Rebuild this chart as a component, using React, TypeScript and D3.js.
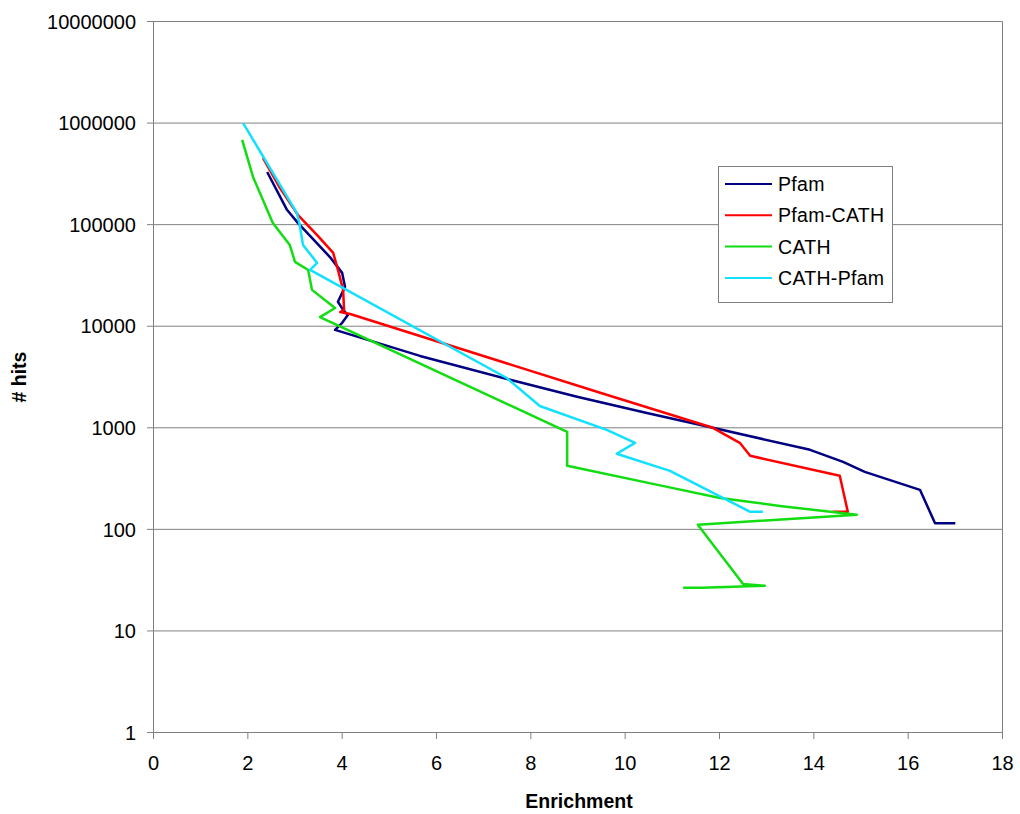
import React from "react";
import * as d3 from "d3";

const xTicks = [0, 2, 4, 6, 8, 10, 12, 14, 16, 18];
const yTicks = [1, 10, 100, 1000, 10000, 100000, 1000000, 10000000];

const pfamX = [2.41, 2.83, 3.06, 3.74, 4.0, 4.06, 3.91, 4.02, 4.12, 4.0, 3.85, 5.65, 7.56, 8.98, 10.46, 11.86, 13.92, 14.62, 15.08, 16.25, 16.57, 17.0];
const pfamY = [330000, 140000, 104000, 48000, 33500, 24400, 17400, 14500, 12900, 10800, 9200, 5100, 2970, 2020, 1400, 1000, 607, 462, 368, 245, 115, 115];

const pfamCathX = [2.32, 2.68, 3.06, 3.47, 3.81, 3.91, 4.02, 4.04, 3.96, 4.17, 9.47, 11.86, 12.43, 12.65, 14.55, 14.72, 14.4];
const pfamCathY = [453000, 230000, 125000, 79000, 52700, 35800, 22800, 14500, 13800, 13200, 2210, 1000, 711, 530, 337, 149, 149];

const cathX = [1.88, 2.11, 2.53, 2.89, 3.0, 3.28, 3.36, 3.85, 3.53, 8.77, 8.77, 10.89, 12.01, 13.28, 14.91, 11.54, 12.5, 12.96, 11.63, 11.23];
const cathY = [682000, 295000, 104000, 63000, 43000, 35800, 22800, 15100, 12300, 912, 422, 262, 204, 170, 139, 111, 29, 27.8, 26.6, 26.6];

const cathPfamX = [1.9, 3.04, 3.1, 3.17, 3.47, 3.32, 7.49, 8.19, 9.61, 10.21, 9.82, 10.95, 12.65, 12.92];
const cathPfamY = [1000000, 130000, 99000, 63000, 42000, 35800, 3090, 1640, 955, 711, 555, 377, 149, 149];

const seriesNames = ["Pfam", "Pfam-CATH", "CATH", "CATH-Pfam"];
const seriesColors = ["#000080", "#ff0000", "#11dd11", "#11e0ff"];
const seriesX = [pfamX, pfamCathX, cathX, cathPfamX];
const seriesY = [pfamY, pfamCathY, cathY, cathPfamY];

const W = 1020;
const H = 814;
const FONT = "'Liberation Sans', Arial, Helvetica, sans-serif";

export default function App() {
  const x = d3.scaleLinear().domain([0, 18]).range([153.5, 1002.5]);
  const y = d3.scaleLog().domain([1, 10000000]).range([732.5, 21.5]);
  const line = d3
    .line<[number, number]>()
    .x((d) => x(d[0]))
    .y((d) => y(d[1]));

  const grid = "#808080";
  return (
    <svg
      width={W}
      height={H}
      style={{ position: "absolute", left: 0, top: 0, background: "#fff" }}
      fontFamily={FONT}
    >
      <rect x={0} y={0} width={W} height={H} fill="#fff" />
      {yTicks.map((t) => (
        <g key={"y" + t}>
          <line x1={147} x2={x(18)} y1={y(t)} y2={y(t)} stroke={grid} strokeWidth={1} />
          <text x={136} y={y(t)} dy="0.36em" textAnchor="end" fontSize={20} fill="#000">
            {t}
          </text>
        </g>
      ))}
      <line x1={x(0)} x2={x(0)} y1={y(10000000)} y2={739} stroke={grid} strokeWidth={1} />
      <line x1={x(18)} x2={x(18)} y1={y(10000000)} y2={739} stroke={grid} strokeWidth={1} />
      {xTicks.map((t) => (
        <g key={"x" + t}>
          <line x1={x(t)} x2={x(t)} y1={y(1)} y2={739} stroke={grid} strokeWidth={1} />
          <text x={x(t)} y={770} textAnchor="middle" fontSize={20} fill="#000">
            {t}
          </text>
        </g>
      ))}
      {seriesNames.map((n, i) => {
        const pts: [number, number][] = seriesX[i].map((v, j) => [v, seriesY[i][j]]);
        return (
          <path
            key={n}
            d={line(pts) || ""}
            fill="none"
            stroke={seriesColors[i]}
            strokeWidth={2.5}
            strokeLinejoin="round"
          />
        );
      })}
      <text x={579} y={808} textAnchor="middle" fontSize={19.5} fontWeight="bold" fill="#000">
        Enrichment
      </text>
      <text
        transform={`translate(26,${377}) rotate(-90)`}
        textAnchor="middle"
        fontSize={19.5}
        fontWeight="bold"
        fill="#000"
      >
        # hits
      </text>
      <g>
        <rect x={718.5} y={166.5} width={174} height={136} fill="#fff" stroke="#808080" strokeWidth={1} />
        {seriesNames.map((n, i) => (
          <g key={"leg" + n}>
            <line x1={725} x2={772} y1={184 + i * 31.3} y2={184 + i * 31.3} stroke={seriesColors[i]} strokeWidth={2} />
            <text x={778} y={184 + i * 31.3} dy="0.36em" fontSize={19.5} letterSpacing={0.3} fill="#000">
              {n}
            </text>
          </g>
        ))}
      </g>
    </svg>
  );
}
